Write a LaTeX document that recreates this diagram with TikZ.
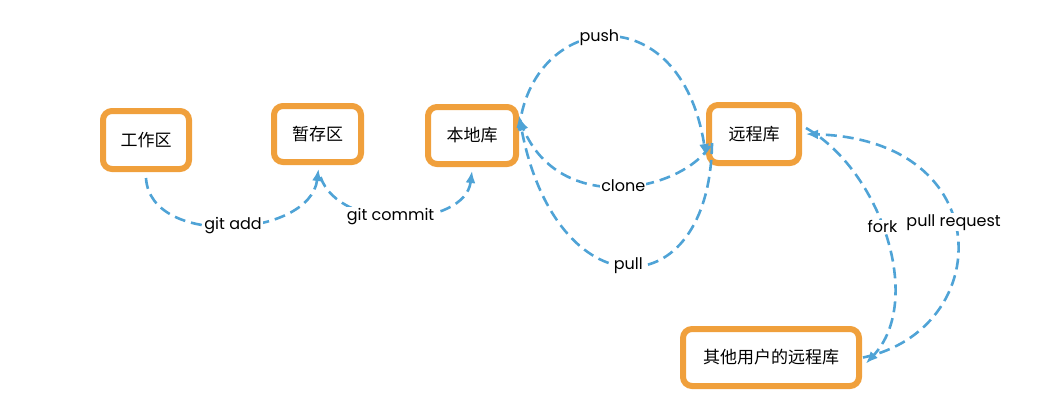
\documentclass[tikz,border=0pt]{standalone}
\usepackage{fontspec}
\setmainfont{Poppins}
\newfontfamily\cjk{Noto Sans CJK SC}
\usetikzlibrary{arrows.meta}
\definecolor{boxorange}{HTML}{F0A03C}
\definecolor{linkblue}{HTML}{4FA3D6}
\tikzset{
  repo/.style={draw=boxorange, line width=6pt, rounded corners=9pt, fill=white,
    inner sep=0pt, font=\cjk\fontsize{17}{19}\selectfont},
  link/.style={draw=linkblue, line width=2.6pt, dash pattern=on 11pt off 6pt,
    -{Latex[length=12pt,width=10pt]}},
  lbl/.style={fill=white, inner sep=1pt, font=\fontsize{16}{18}\selectfont, text=black}
}
\begin{document}
\begin{tikzpicture}[x=1pt,y=-1pt]
\useasboundingbox (0,0) rectangle (1052,413);
\node[repo, minimum width=86pt, minimum height=58pt] (work) at (146,140) {工作区};
\node[repo, minimum width=87pt, minimum height=56pt] (stage) at (317.5,134) {暂存区};
\node[repo, minimum width=88pt, minimum height=57pt] (local) at (472,135.5) {本地库};
\node[repo, minimum width=90pt, minimum height=58pt] (remote) at (754,134) {远程库};
\node[repo, minimum width=176pt, minimum height=57pt] (other) at (771,357.5) {其他用户的远程库};

\draw[link] ([yshift=-6pt]work.south) .. controls (150,248) and (310,238) .. ([xshift=1pt,yshift=-4pt]stage.south) node[lbl,pos=0.51] {git add};
\draw[link] ([xshift=3pt,yshift=-12pt]stage.south) .. controls (340,233) and (465,228) .. ([yshift=-4pt]local.south) node[lbl,pos=0.45] {git commit};
\draw[link] ([yshift=5pt]local.east) .. controls (530,12) and (680,-8) .. ([yshift=-22pt]remote.west) node[lbl,pos=0.47] {push};
\draw[link] ([xshift=4pt,yshift=-12pt]remote.west) .. controls (680,192) and (560,216) .. ([yshift=17pt]local.east) node[lbl,pos=0.48] {clone};
\draw[link] ([xshift=6pt,yshift=-9pt]remote.west) .. controls (710,310) and (555,312) .. ([yshift=20pt]local.east) node[lbl,pos=0.5] {pull};
\draw[link] ([xshift=4pt,yshift=6pt]remote.east) .. controls (880,170) and (925,300) .. ([xshift=4pt,yshift=-6pt]other.east) node[lbl,pos=0.46] {fork};
\draw[link] ([xshift=1pt]other.east) .. controls (995,330) and (1000,140) .. ([xshift=4pt]remote.east) node[lbl,pos=0.55] {pull request};
\end{tikzpicture}
\end{document}
